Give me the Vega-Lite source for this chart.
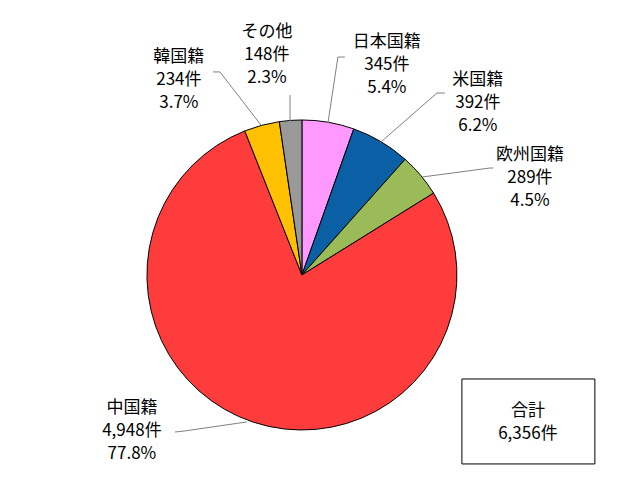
{
  "$schema": "https://vega.github.io/schema/vega-lite/v6.json",
  "description": "Pie chart of cases by nationality, total 6,356",
  "autosize": {"type": "fit", "contains": "padding"},
  "width": 642,
  "height": 492,
  "padding": 0,
  "background": "#FFFFFF",
  "config": {"view": {"stroke": null}, "text": {"font": "Noto Sans CJK JP"}},
  "datasets": {
    "slices": [
      {"name": "日本国籍", "count": 345, "order": 1},
      {"name": "米国籍", "count": 392, "order": 2},
      {"name": "欧州国籍", "count": 289, "order": 3},
      {"name": "中国籍", "count": 4948, "order": 4},
      {"name": "韓国籍", "count": 234, "order": 5},
      {"name": "その他", "count": 148, "order": 6}
    ],
    "labels": [
      {"name": "日本国籍", "text": "日本国籍\n345件\n5.4%", "x": 0.548, "y": 1.503},
      {"name": "米国籍", "text": "米国籍\n392件\n6.2%", "x": 1.135, "y": 1.258},
      {"name": "欧州国籍", "text": "欧州国籍\n289件\n4.5%", "x": 1.471, "y": 0.774},
      {"name": "中国籍", "text": "中国籍\n4,948件\n77.8%", "x": -1.097, "y": -0.858},
      {"name": "韓国籍", "text": "韓国籍\n234件\n3.7%", "x": -0.794, "y": 1.406},
      {"name": "その他", "text": "その他\n148件\n2.3%", "x": -0.226, "y": 1.568}
    ],
    "leaders": [
      {"name": "日本国籍", "seq": 1, "x": 0.277, "y": 1.406},
      {"name": "日本国籍", "seq": 2, "x": 0.232, "y": 1.406},
      {"name": "日本国籍", "seq": 3, "x": 0.168, "y": 0.981},
      {"name": "米国籍", "seq": 1, "x": 0.923, "y": 1.174},
      {"name": "米国籍", "seq": 2, "x": 0.871, "y": 1.174},
      {"name": "米国籍", "seq": 3, "x": 0.503, "y": 0.852},
      {"name": "欧州国籍", "seq": 1, "x": 1.235, "y": 0.69},
      {"name": "欧州国籍", "seq": 2, "x": 1.213, "y": 0.69},
      {"name": "欧州国籍", "seq": 3, "x": 0.774, "y": 0.632},
      {"name": "中国籍", "seq": 1, "x": -0.819, "y": -1.013},
      {"name": "中国籍", "seq": 2, "x": -0.755, "y": -1.006},
      {"name": "中国籍", "seq": 3, "x": -0.355, "y": -0.948},
      {"name": "韓国籍", "seq": 1, "x": -0.574, "y": 1.31},
      {"name": "韓国籍", "seq": 2, "x": -0.529, "y": 1.31},
      {"name": "韓国籍", "seq": 3, "x": -0.265, "y": 0.968},
      {"name": "その他", "seq": 1, "x": -0.077, "y": 1.161},
      {"name": "その他", "seq": 2, "x": -0.077, "y": 0.994}
    ],
    "total": [
      {"text": "合計\n6,356件", "x": 1.032, "x2": 1.89, "y": -0.671, "y2": -1.219, "tx": 1.458, "ty": -0.877}
    ]
  },
  "layer": [
    {
      "data": {"name": "slices"},
      "mark": {"type": "arc", "radius": 155, "stroke": "#000000", "strokeWidth": 1},
      "encoding": {
        "theta": {"field": "count", "type": "quantitative", "stack": true},
        "order": {"field": "order", "type": "quantitative"},
        "x": {"datum": 0, "type": "quantitative", "scale": {"domain": [-1.948, 2.194], "nice": false, "zero": false}, "axis": null},
        "y": {"datum": 0, "type": "quantitative", "scale": {"domain": [-1.4, 1.774], "nice": false, "zero": false}, "axis": null},
        "color": {
          "field": "name",
          "type": "nominal",
          "scale": {
            "domain": ["日本国籍", "米国籍", "欧州国籍", "中国籍", "韓国籍", "その他"],
            "range": ["#FF99FF", "#0A5FA5", "#9BBB59", "#FF3C3C", "#FFC000", "#999999"]
          },
          "legend": null
        }
      }
    },
    {
      "data": {"name": "leaders"},
      "mark": {"type": "line", "color": "#808080", "strokeWidth": 1},
      "encoding": {
        "x": {"field": "x", "type": "quantitative", "scale": {"domain": [-1.948, 2.194], "nice": false, "zero": false}, "axis": null},
        "y": {"field": "y", "type": "quantitative", "scale": {"domain": [-1.4, 1.774], "nice": false, "zero": false}, "axis": null},
        "detail": {"field": "name", "type": "nominal"},
        "order": {"field": "seq", "type": "quantitative"}
      }
    },
    {
      "data": {"name": "labels"},
      "mark": {"type": "text", "fontSize": 17, "lineHeight": 23, "lineBreak": "\n", "align": "center", "baseline": "middle", "color": "#000000"},
      "encoding": {
        "x": {"field": "x", "type": "quantitative", "scale": {"domain": [-1.948, 2.194], "nice": false, "zero": false}, "axis": null},
        "y": {"field": "y", "type": "quantitative", "scale": {"domain": [-1.4, 1.774], "nice": false, "zero": false}, "axis": null},
        "text": {"field": "text", "type": "nominal"}
      }
    },
    {
      "data": {"name": "total"},
      "mark": {"type": "rect", "fill": "#FFFFFF", "stroke": "#000000", "strokeWidth": 1},
      "encoding": {
        "x": {"field": "x", "type": "quantitative", "scale": {"domain": [-1.948, 2.194], "nice": false, "zero": false}, "axis": null},
        "x2": {"field": "x2"},
        "y": {"field": "y", "type": "quantitative", "scale": {"domain": [-1.4, 1.774], "nice": false, "zero": false}, "axis": null},
        "y2": {"field": "y2"}
      }
    },
    {
      "data": {"name": "total"},
      "mark": {"type": "text", "fontSize": 17, "lineHeight": 23, "lineBreak": "\n", "align": "center", "baseline": "middle", "color": "#000000"},
      "encoding": {
        "x": {"field": "tx", "type": "quantitative", "scale": {"domain": [-1.948, 2.194], "nice": false, "zero": false}, "axis": null},
        "y": {"field": "ty", "type": "quantitative", "scale": {"domain": [-1.4, 1.774], "nice": false, "zero": false}, "axis": null},
        "text": {"field": "text", "type": "nominal"}
      }
    }
  ]
}
